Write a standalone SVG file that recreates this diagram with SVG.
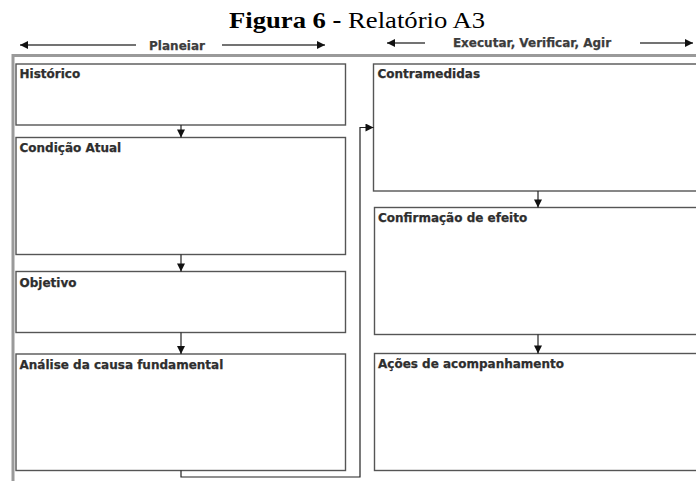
<svg xmlns="http://www.w3.org/2000/svg" width="696" height="481" viewBox="0 0 696 481">
  <defs>
    <style>
      .title { font-family: "Liberation Serif", "Times New Roman", serif; font-size: 24px; fill: #000; }
      .phase { font-family: "DejaVu Sans", "Liberation Sans", sans-serif; font-weight: bold; font-size: 12px; fill: #3c3c3c; stroke: #3c3c3c; stroke-width: 0.25; }
      .label { font-family: "DejaVu Sans", "Liberation Sans", sans-serif; font-weight: bold; font-size: 12px; fill: #2e2e2e; stroke: #2e2e2e; stroke-width: 0.25; }
      .box { fill: #fff; stroke: #555; stroke-width: 1.4; }
      .frame { fill: none; stroke: #9a9a9a; stroke-width: 3; }
      .conn { fill: none; stroke: #222; stroke-width: 1.2; }
      .hline { fill: none; stroke: #444; stroke-width: 1.4; }
    </style>
    <marker id="arrow" viewBox="0 0 10 10" refX="10" refY="5" markerWidth="9" markerHeight="8" markerUnits="userSpaceOnUse" orient="auto">
      <path d="M0,0 L10,5 L0,10 Z" fill="#111"/>
    </marker>
  </defs>

  <rect width="696" height="481" fill="#fff"/>

  <!-- caption -->
  <text class="title" x="229" y="28" textLength="256" lengthAdjust="spacingAndGlyphs"><tspan font-weight="bold">Figura 6 - </tspan>Relatório A3</text>

  <!-- phase headers -->
  <g id="header-planeiar">
    <line class="hline" x1="136" y1="45" x2="20" y2="45" marker-end="url(#arrow)"/>
    <text class="phase" x="177" y="49.5" text-anchor="middle">Planeiar</text>
    <line class="hline" x1="222" y1="45" x2="325" y2="45" marker-end="url(#arrow)"/>
  </g>
  <g id="header-executar">
    <line class="hline" x1="425" y1="43" x2="387" y2="43" marker-end="url(#arrow)"/>
    <text class="phase" x="532" y="47" text-anchor="middle">Executar, Verificar, Agir</text>
    <line class="hline" x1="640" y1="43" x2="693" y2="43" marker-end="url(#arrow)"/>
  </g>

  <!-- outer sheet frame -->
  <rect class="frame" x="13" y="55.5" width="700" height="440"/>

  <!-- left column -->
  <g id="historico">
    <rect class="box" x="16" y="64" width="329.5" height="61"/>
    <text class="label" x="19.5" y="78">Histórico</text>
  </g>
  <g id="condicao-atual">
    <rect class="box" x="16" y="137.5" width="329.5" height="117"/>
    <text class="label" x="19.5" y="152">Condição Atual</text>
  </g>
  <g id="objetivo">
    <rect class="box" x="16" y="271.5" width="329.5" height="61"/>
    <text class="label" x="19.5" y="286.5">Objetivo</text>
  </g>
  <g id="analise">
    <rect class="box" x="16" y="354" width="329.5" height="116.5"/>
    <text class="label" x="19.5" y="369">Análise da causa fundamental</text>
  </g>

  <!-- right column -->
  <g id="contramedidas">
    <rect class="box" x="373.5" y="64" width="340" height="127"/>
    <text class="label" x="377.5" y="78">Contramedidas</text>
  </g>
  <g id="confirmacao">
    <rect class="box" x="374.5" y="207.5" width="340" height="127"/>
    <text class="label" x="378" y="222">Confirmação de efeito</text>
  </g>
  <g id="acoes">
    <rect class="box" x="374.5" y="353.5" width="340" height="117"/>
    <text class="label" x="378" y="368">Ações de acompanhamento</text>
  </g>

  <!-- flow connectors -->
  <g id="connectors">
    <line class="conn" x1="181" y1="125" x2="181" y2="137.5" marker-end="url(#arrow)"/>
    <line class="conn" x1="181" y1="254.5" x2="181" y2="271.5" marker-end="url(#arrow)"/>
    <line class="conn" x1="181" y1="332.5" x2="181" y2="354" marker-end="url(#arrow)"/>
    <polyline class="conn" points="181,470.5 181,477 360,477 360,127.5 373.5,127.5" marker-end="url(#arrow)"/>
    <line class="conn" x1="538" y1="191" x2="538" y2="207.5" marker-end="url(#arrow)"/>
    <line class="conn" x1="538" y1="334.5" x2="538" y2="353.5" marker-end="url(#arrow)"/>
  </g>
</svg>
